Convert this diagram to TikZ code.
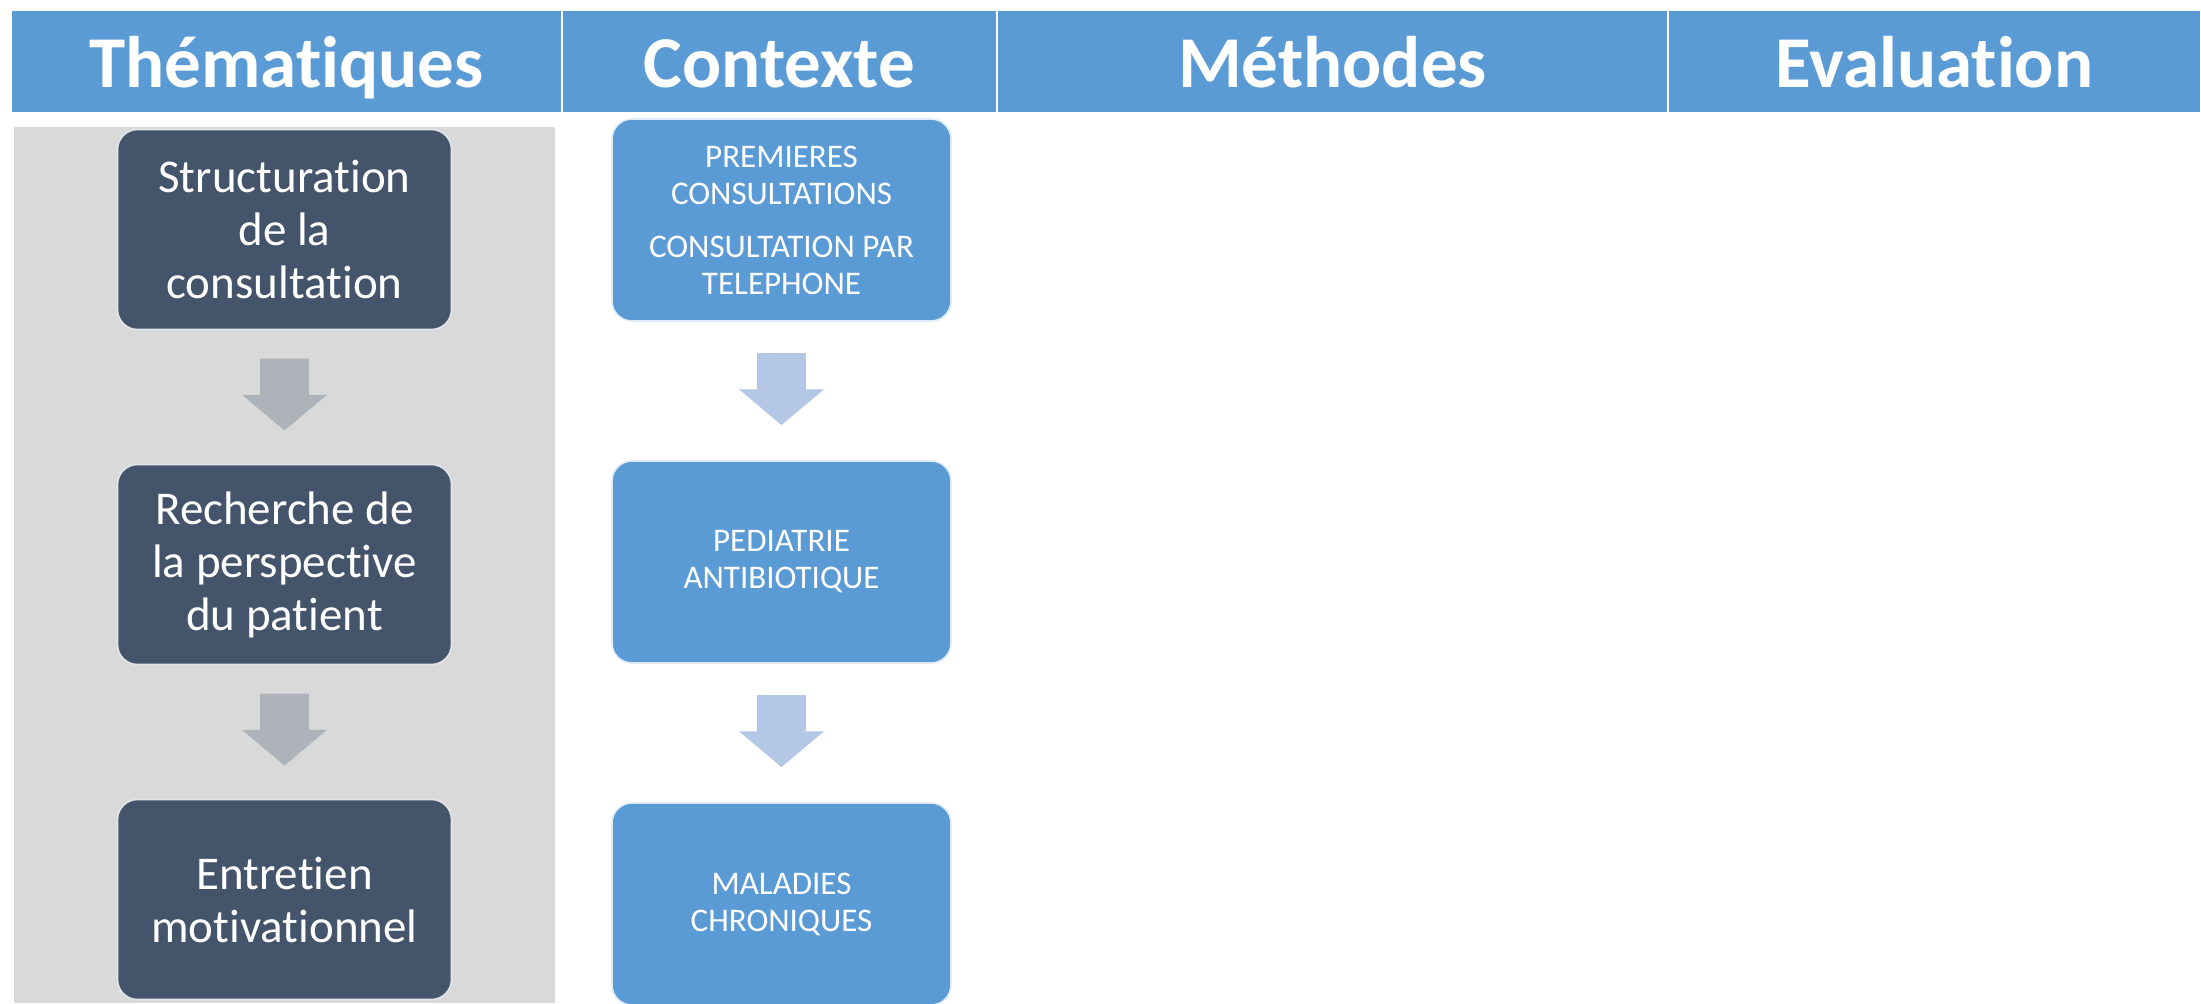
\documentclass[tikz,border=0pt]{standalone}
\usepackage{fontspec}
\setmainfont{Carlito}[Ligatures=NoCommon]
\usetikzlibrary{shapes.arrows, positioning, backgrounds}
\definecolor{hdrblue}{HTML}{5B9BD5}
\definecolor{slate}{HTML}{44546A}
\definecolor{arrgray}{HTML}{AEB2B9}
\definecolor{arrblue}{HTML}{B4C7E7}
\definecolor{bggray}{HTML}{D9D9D9}

\begin{document}
\begin{tikzpicture}[
    x=0.5pt, y=-0.5pt,
    hcell/.style={rectangle, draw=white, line width=1pt, fill=hdrblue, outer sep=0pt, inner sep=0pt, minimum height=51.5pt, text height=25.5pt, text depth=0pt, text=white, font=\fontsize{36.5pt}{40pt}\selectfont\bfseries},
    thembox/.style={rectangle, rounded corners=10pt, draw=white!85!slate, line width=0.8pt, fill=slate, text=white, align=center, minimum width=167pt, minimum height=100pt, inner sep=0pt, outer sep=0pt, font=\fontsize{23.5pt}{26.5pt}\selectfont},
    ctxbox/.style={thembox, draw=white!80!hdrblue, fill=hdrblue, minimum width=169.5pt, minimum height=101pt, font=\fontsize{16.5pt}{18.5pt}\selectfont},
    flowarrow/.style={single arrow, shape border rotate=270, draw=none, minimum width=42pt, minimum height=36pt, inner xsep=12pt, inner ysep=0pt, single arrow head extend=9pt, single arrow tip angle=100, outer sep=0pt}
]
\useasboundingbox (0,0) rectangle (2201,1003);

% header row
\node[hcell, minimum width=275.5pt, anchor=north west] (hthem) at (11,10) {Thématiques};
\node[hcell, minimum width=217.5pt, right=0pt of hthem] (hctx) {Contexte};
\node[hcell, minimum width=335.5pt, right=0pt of hctx] (hmeth) {Méthodes};
\node[hcell, minimum width=266.5pt, right=0pt of hmeth] (heval) {Evaluation};

% thematiques
\node[thembox] (them1) at (284.5,229.5) {Structuration\\de la\\consultation};
\node[flowarrow, fill=arrgray, anchor=tail] (tarr1) at ([yshift=-14.5pt]them1.south) {};
\node[thembox, below=17pt of tarr1.tip] (them2) {Recherche de\\la perspective\\du patient};
\node[flowarrow, fill=arrgray, anchor=tail] (tarr2) at ([yshift=-14.5pt]them2.south) {};
\node[thembox, below=17pt of tarr2.tip] (them3) {Entretien\\motivationnel};

% contexte
\node[ctxbox] (ctx1) at (781.5,220) {PREMIERES\\CONSULTATIONS\\[8pt]CONSULTATION PAR\\TELEPHONE};
\node[flowarrow, fill=arrblue, anchor=tail] (carr1) at ([yshift=-16pt]ctx1.south) {};
\node[ctxbox, below=18pt of carr1.tip] (ctx2) {PEDIATRIE\\ANTIBIOTIQUE};
\node[flowarrow, fill=arrblue, anchor=tail] (carr2) at ([yshift=-16pt]ctx2.south) {};
\node[ctxbox, below=18pt of carr2.tip] (ctx3) {MALADIES\\CHRONIQUES};

\begin{scope}[on background layer]
\fill[bggray] (14,127) rectangle (555,1003);
\end{scope}
\end{tikzpicture}
\end{document}
